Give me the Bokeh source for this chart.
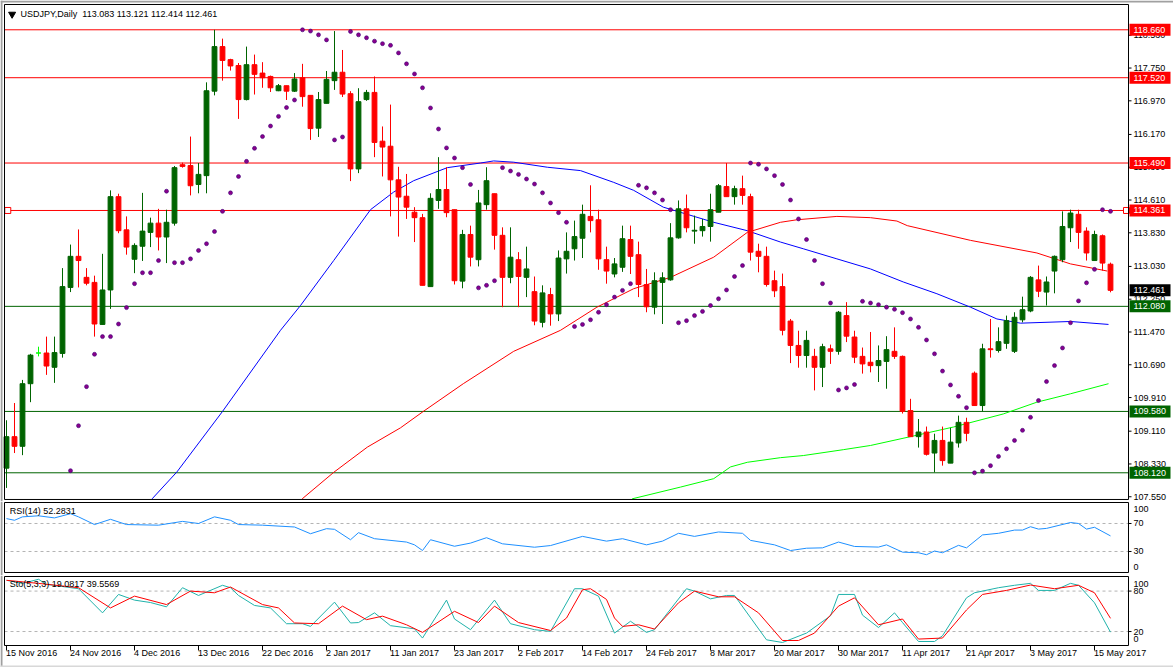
from bokeh.plotting import figure
from bokeh.layouts import column
from bokeh.models import Range1d, ColumnDataSource
from bokeh.core.properties import value
from bokeh.embed import file_html
from bokeh.resources import INLINE

# ---------------- data ----------------
opens = [108.23, 108.98, 108.75, 110.24, 110.97, 110.97, 110.63, 110.96, 112.53, 113.27,
         112.77, 112.65, 111.65, 112.47, 114.69, 113.90, 113.20, 113.51, 113.84, 114.06,
         113.73, 114.06, 115.45, 115.43, 114.98, 115.19, 117.20, 118.26, 117.95, 117.81,
         117.00, 117.83, 117.63, 117.55, 117.21, 117.33, 117.20, 117.52, 117.10, 116.32,
         116.91, 117.45, 117.65, 117.14, 115.35, 117.00, 117.17, 116.01, 115.89, 115.09,
         114.70, 114.32, 114.19, 112.55, 114.60, 114.86, 114.38, 112.68, 113.79, 113.19,
         114.50, 114.76, 113.77, 112.77, 113.19, 112.77, 112.43, 111.70, 112.36, 111.90,
         113.21, 113.45, 113.70, 114.22, 114.14, 113.19, 112.85, 113.01, 113.67, 113.31,
         112.60, 112.06, 112.65, 112.71, 113.71, 114.40, 113.87, 113.88, 113.98, 114.32,
         114.93, 114.69, 114.88, 114.69, 113.39, 113.27, 112.69, 112.55, 111.73, 111.15,
         110.91, 110.89, 110.63, 111.07, 111.01, 111.86, 111.35, 110.89, 110.75, 110.67,
         110.77, 111.01, 110.89, 109.60, 108.98, 109.09, 108.59, 108.89, 108.35, 108.83,
         109.32, 110.49, 109.72, 111.07, 111.03, 111.20, 111.01, 111.76, 111.97, 112.71,
         112.42, 112.92, 113.19, 113.95, 114.27, 113.87, 113.17, 113.76, 113.083]
highs = [109.37, 109.78, 110.33, 110.95, 111.12, 111.36, 111.36, 112.99, 113.55, 113.91,
         112.99, 112.81, 113.33, 114.84, 114.76, 114.22, 113.58, 114.78, 114.19, 114.40,
         114.38, 115.42, 115.50, 116.12, 115.49, 117.41, 118.66, 118.45, 117.97, 117.87,
         118.26, 118.07, 117.89, 117.57, 117.37, 117.33, 117.63, 117.85, 117.10, 117.18,
         117.68, 118.63, 118.18, 117.20, 117.27, 117.23, 117.55, 116.36, 116.88, 115.40,
         115.23, 114.44, 114.28, 114.77, 115.63, 115.39, 114.38, 113.90, 114.00, 114.85,
         115.39, 114.76, 113.96, 113.96, 113.37, 113.50, 112.79, 112.58, 112.52, 113.41,
         113.84, 114.12, 114.50, 114.96, 114.38, 113.50, 113.23, 114.00, 114.00, 113.62,
         112.97, 112.89, 112.89, 114.06, 114.60, 114.74, 114.24, 114.16, 114.76, 114.99,
         115.49, 114.95, 115.19, 114.76, 113.57, 113.50, 112.93, 112.86, 111.78, 111.50,
         111.50, 111.07, 111.19, 111.17, 111.97, 112.18, 111.50, 111.10, 111.47, 111.15,
         111.37, 111.58, 110.91, 109.88, 109.40, 109.22, 109.05, 109.22, 109.19, 109.48,
         109.43, 110.53, 111.19, 111.78, 111.58, 111.86, 111.94, 112.31, 112.80, 113.05,
         112.79, 113.29, 114.34, 114.38, 114.38, 113.96, 113.88, 113.79, 113.121]
lows = [107.76, 108.59, 108.54, 109.80, 110.89, 110.45, 110.26, 110.86, 112.42, 112.53,
        112.58, 111.36, 111.65, 112.02, 113.82, 113.31, 112.87, 113.16, 113.49, 113.41,
        113.11, 114.00, 115.38, 114.72, 114.77, 114.77, 117.10, 117.45, 117.69, 116.54,
        116.98, 117.12, 117.28, 117.18, 117.20, 116.99, 117.18, 116.83, 116.04, 116.11,
        116.91, 117.23, 117.06, 115.06, 115.25, 116.97, 115.63, 115.17, 114.22, 113.74,
        114.16, 113.61, 112.58, 112.55, 114.40, 114.20, 112.60, 112.51, 113.03, 113.03,
        114.38, 113.43, 112.06, 112.63, 112.06, 112.30, 111.63, 111.58, 111.62, 111.73,
        112.86, 113.17, 113.23, 113.84, 112.95, 112.62, 112.77, 112.90, 112.85, 112.30,
        111.94, 111.89, 111.66, 112.69, 113.69, 113.84, 113.57, 113.74, 113.62, 114.32,
        114.69, 114.50, 114.50, 113.17, 112.89, 112.55, 112.30, 111.39, 110.73, 110.62,
        110.62, 110.08, 110.16, 110.71, 110.93, 111.23, 110.73, 110.48, 110.51, 110.28,
        110.12, 110.83, 109.53, 108.98, 108.72, 108.53, 108.13, 108.29, 108.35, 108.72,
        108.87, 109.72, 109.58, 110.86, 110.98, 111.07, 110.97, 111.70, 111.94, 112.30,
        112.10, 112.39, 113.13, 113.61, 113.45, 113.17, 113.17, 112.93, 112.414]
closes = [108.98, 108.75, 110.24, 110.92, 110.97, 110.66, 110.98, 112.55, 113.27, 113.17,
          112.63, 111.66, 112.47, 114.69, 113.88, 113.49, 113.53, 113.87, 114.06, 113.73,
          114.08, 115.38, 115.41, 114.95, 115.22, 117.21, 118.26, 117.93, 117.80, 117.00,
          117.83, 117.60, 117.52, 117.28, 117.33, 117.20, 117.49, 117.07, 116.31, 117.00,
          117.48, 117.65, 117.13, 115.35, 116.95, 117.17, 115.98, 115.87, 115.09, 114.68,
          114.44, 114.19, 112.58, 114.65, 114.86, 114.31, 112.69, 113.79, 113.25, 114.54,
          115.07, 113.77, 112.77, 113.25, 112.79, 112.97, 111.73, 112.40, 111.90, 113.23,
          113.39, 113.74, 114.27, 114.12, 113.21, 112.92, 113.09, 113.69, 113.27, 112.60,
          112.07, 112.69, 112.76, 113.71, 114.40, 113.95, 113.89, 113.98, 114.38, 114.95,
          114.69, 114.88, 114.72, 113.37, 113.27, 112.60, 112.45, 111.51, 111.15, 110.91,
          111.27, 110.63, 111.12, 111.01, 111.94, 111.37, 110.87, 110.71, 110.67, 110.79,
          111.05, 110.89, 109.58, 108.98, 109.09, 108.56, 108.89, 108.41, 108.85, 109.32,
          109.06, 109.72, 111.07, 111.05, 111.24, 111.74, 111.82, 112.00, 112.77, 112.44,
          112.66, 113.27, 113.98, 114.30, 113.84, 113.35, 113.79, 113.11, 112.461]

sar_start = 8
sar = [108.17, 109.24, 110.17, 110.94, 111.36, 111.36, 111.66, 112.05, 112.62, 112.88,
       112.88, 113.17, 114.82, 113.12, 113.12, 113.21, 113.41, 113.57, 113.86, 114.34,
       114.78, 115.17, 115.53, 115.84, 116.12, 116.37, 116.60, 116.81, 116.99, 118.66,
       118.63, 118.54, 118.42, 116.04, 116.11, 118.62, 118.54, 118.47, 118.39, 118.33,
       118.29, 118.11, 117.85, 117.61, 117.28, 116.80, 116.30, 115.85, 115.61, 115.38,
       114.98, 112.52, 112.58, 112.69, 115.38, 115.30, 115.22, 115.11, 114.99, 114.78,
       114.54, 114.31, 114.08, 111.60, 111.65, 111.76, 111.94, 112.12, 112.30, 112.46,
       112.62, 114.96, 114.90, 114.78, 114.61, 114.38, 111.69, 111.74, 111.86, 111.96,
       112.10, 112.26, 112.47, 112.79, 113.05, 115.49, 115.46, 115.35, 115.19, 114.98,
       114.61, 114.16, 113.67, 113.17, 112.62, 112.16, 110.09, 110.14, 110.22, 112.20,
       112.16, 112.12, 112.06, 112.01, 111.93, 111.78, 111.58, 111.28, 110.95, 110.54,
       110.21, 109.94, 109.67, 108.12, 108.16, 108.29, 108.51, 108.69, 108.89, 109.13,
       109.44, 109.84, 110.29, 110.67, 111.09, 111.69, 112.21, 112.64, 112.96, 114.38, 114.34]

ma_blue_k = [18.2, 21.3, 27, 34.25, 36.75, 40.9, 45.5, 48.4, 50.9, 55.1, 59.25, 60.9, 63.4,
             67.6, 71.75, 75.9, 78.4, 82.1, 88.4, 92.6, 96.75, 99.6, 103.8, 108, 112.1, 116.3,
             120.5, 123.8, 126.75, 133, 137.75]
ma_blue = [107.50, 108.14, 109.58, 111.51, 112.10, 113.17, 114.38, 114.80, 115.07, 115.38,
           115.49, 115.54, 115.51, 115.39, 115.31, 115.03, 114.84, 114.44, 114.08, 113.88,
           113.61, 113.45, 113.21, 112.97, 112.66, 112.38, 112.06, 111.78, 111.68, 111.72, 111.65]
ma_red_k = [36.96, 40.9, 45.1, 49.25, 52.1, 57.1, 63.4, 69.25, 73.8, 78.4, 83, 88.4, 92.6,
            96.75, 98.8, 103.8, 108, 111.3, 112.6, 120.5, 128.8, 133, 137.6]
ma_red = [107.50, 108.13, 108.73, 109.19, 109.58, 110.24, 111.01, 111.51, 112.06, 112.50,
          112.77, 113.25, 113.84, 114.08, 114.14, 114.22, 114.19, 114.11, 114.00, 113.65,
          113.35, 113.09, 112.92]
ma_green_k = [78.2, 84.25, 88.4, 90.5, 92.6, 96.75, 99.6, 104.6, 108, 113, 118.4, 124.6,
              128.8, 133, 137.75]
ma_green = [107.50, 107.78, 107.98, 108.26, 108.37, 108.48, 108.53, 108.67, 108.77, 108.98,
            109.21, 109.52, 109.80, 110.00, 110.24]

red_levels = [118.66, 117.52, 115.49, 114.361]
green_levels = [112.08, 109.58, 108.12]
last_price = 112.461
price_ticks = [107.55, 108.33, 109.11, 109.91, 110.69, 111.47, 112.25, 113.03, 113.83,
               114.61, 115.39, 116.17, 116.97, 117.75, 118.53]

rsi_k = [0, 1, 2, 4, 6, 8, 9, 11, 13, 15, 19, 22, 24, 26, 28, 29, 32, 36, 38, 40, 41, 43, 44,
         46, 50, 51, 52, 53, 56, 58, 60, 62, 66, 68, 72, 75, 77, 80, 82, 84, 86, 89, 92, 93,
         96, 98, 100, 102, 104, 106, 109, 110, 112, 114, 115, 116, 117, 119, 120, 122, 124,
         126, 127, 128, 129, 130, 133, 134, 135, 136, 138]
rsi = [77, 74.6, 79.5, 81, 78, 84, 79.5, 68.5, 76, 68.5, 67.6, 73, 70, 79.5, 74.6, 68.5, 67.6,
       65, 55.4, 62.6, 61.7, 46.8, 56.9, 48.3, 43.5, 39.5, 31.4, 46.8, 37.5, 42, 49.7, 41,
       36.1, 38.5, 51.6, 44.8, 48.3, 39.5, 44.8, 56, 51.6, 57.9, 56, 45.9, 39.5, 31.4, 34.7,
       35.2, 43.5, 37.2, 36.3, 39.5, 29.1, 28.2, 25.4, 30.7, 28.2, 38.8, 35.2, 53.7, 56,
       60.6, 60.6, 65.4, 62, 63, 71.4, 70, 62, 64.6, 52.28]
rsi_levels = [30, 70]

sto_k = [0, 2, 4, 5, 9, 12, 14, 16, 18, 20, 22, 24, 27, 28, 29, 31, 33, 35, 37, 38, 41, 43,
         44, 46, 48, 51, 52, 55, 56, 58, 61, 63, 66, 68, 71, 72, 74, 76, 78, 80, 81, 85, 86,
         88, 90, 91, 95, 97, 100, 103, 104, 106, 107, 109, 111, 112, 114, 116, 117, 120, 121,
         124, 126, 128, 129, 131, 133, 134, 136, 138]
sto_main = [96, 91.4, 97.5, 90, 83.5, 47.7, 75, 66.6, 63, 56.6, 85, 73.5, 88.6, 85, 73.5,
            58.7, 55, 31.6, 31.6, 27.6, 63.6, 32.7, 33.3, 47.7, 28.7, 24, 10.3, 66.6, 38.6,
            22.7, 66.6, 31.6, 22.7, 20.2, 83.5, 83.5, 72.5, 17.7, 35.2, 18.7, 22.7, 83.5, 80,
            68.5, 73.5, 73.5, 7.7, 3.7, 17.7, 43.3, 75, 75, 44.3, 25.9, 47.7, 33.3, 5.2, 5.2,
            13.7, 70, 77.5, 85, 88.6, 91.5, 81, 81, 91.5, 88.6, 62.6, 19.08]
sig_k = [0, 4, 9, 13, 16, 20, 23, 26, 28, 32, 34, 36, 39, 42, 45, 47, 50, 52, 56, 59, 61, 64,
         68, 70, 72, 73, 75, 76, 77, 79, 81, 84, 86, 89, 91, 94, 97, 99, 101, 104, 106, 109,
         112, 114, 117, 120, 122, 125, 128, 131, 134, 136, 138]
sto_signal = [96, 91.4, 85, 55, 72.5, 60, 80, 77.5, 86, 60, 55, 32.7, 31.6, 57.7, 37.6, 42.8,
              30, 18.7, 50, 33.3, 57.7, 33.3, 21.5, 40, 82, 83.5, 67.6, 40, 27.6, 30, 23.7,
              62.6, 80, 71.5, 71.5, 47.7, 6.7, 6.7, 17.7, 57.7, 70, 30, 38.6, 8.8, 10.3, 52,
              75, 81, 89, 83.5, 88.6, 77.5, 39.56]
sto_levels = [20, 80]

date_k = [0, 8, 16, 24, 32, 40, 48, 56, 64, 72, 80, 88, 96, 104, 112, 120, 128, 136]
date_labels = ["15 Nov 2016", "24 Nov 2016", "4 Dec 2016", "13 Dec 2016", "22 Dec 2016",
               "2 Jan 2017", "11 Jan 2017", "23 Jan 2017", "2 Feb 2017", "14 Feb 2017",
               "24 Feb 2017", "8 Mar 2017", "20 Mar 2017", "30 Mar 2017", "11 Apr 2017",
               "21 Apr 2017", "3 May 2017", "15 May 2017"]

# ---------------- styling / geometry ----------------
FONT = value("Liberation Sans")
FS = value("9px")
BULL = "#006400"
BEAR = "#ff0000"
DOJI = "#00ff00"
LVL_GREEN = "#006400"
X_RANGE = (-0.75, 145.875)       # whole canvas width in bar units (8 px per bar)
BOX_L, BOX_R = -0.25, 140.25     # panel box edges in bar units
TICK_END = 140.625               # 3 px tick marks to the right of the box
TXT_X = 140.875                  # right-side text start
PX = 1 / 8.0                     # one pixel in bar units


def panel(height, y0, y1):
    p = figure(width=1173, height=height, x_range=Range1d(*X_RANGE), y_range=Range1d(y0, y1),
               output_backend="svg", toolbar_location=None, x_axis_type=None,
               y_axis_type=None, min_border=0)
    p.min_border_left = p.min_border_right = p.min_border_top = p.min_border_bottom = 0
    p.outline_line_color = None
    p.background_fill_color = "white"
    p.border_fill_color = "white"
    # grey window frame on the left edge
    p.segment(x0=[X_RANGE[0] + PX], y0=[y0], x1=[X_RANGE[0] + PX], y1=[y1],
              line_color="#a0a0a0", line_width=2)
    return p


def box(p, top, bottom):
    p.quad(left=[BOX_L], right=[BOX_R], top=[top], bottom=[bottom], fill_color=None,
           line_color="black", line_width=1)


def right_labels(p, ticks, texts, mark=True, color="black"):
    if mark:
        p.segment(x0=[BOX_R] * len(ticks), x1=[TICK_END] * len(ticks), y0=ticks, y1=ticks,
                  line_color="black", line_width=1)
    p.text(x=[TXT_X] * len(ticks), y=ticks, text=texts, text_font=FONT, text_font_size=FS,
           text_color=color, text_align="left", text_baseline="middle")


def hlevels(p, levels, color, dash="solid"):
    p.segment(x0=[BOX_L] * len(levels), x1=[BOX_R] * len(levels), y0=levels, y1=levels,
              line_color=color, line_width=1, line_dash=dash)


# ---------------- main price panel ----------------
P_TOP, P_BOT = 119.357, 107.437          # canvas edges (0 px and 501 px)
PPX = 1 / 42.03                          # one pixel in price units
p1 = panel(501, P_BOT, P_TOP)
p1.segment(x0=[X_RANGE[0]], x1=[X_RANGE[1]], y0=[P_TOP - PPX], y1=[P_TOP - PPX],
           line_color="#a0a0a0", line_width=2)

idx = list(range(len(opens)))
cols = [DOJI if c == o else (BULL if c > o else BEAR) for o, c in zip(opens, closes)]
src = ColumnDataSource(dict(x=idx, h=highs, l=lows,
                            top=[max(o, c) for o, c in zip(opens, closes)],
                            bot=[min(o, c) for o, c in zip(opens, closes)], col=cols))

hlevels(p1, red_levels, BEAR)
hlevels(p1, green_levels, LVL_GREEN)

p1.line(ma_green_k, ma_green, color="#00ff00", line_width=1)
p1.line(ma_red_k, ma_red, color="#ff0000", line_width=1)
p1.line(ma_blue_k, ma_blue, color="#0000ff", line_width=1)

p1.segment(x0="x", y0="l", x1="x", y1="h", color="col", line_width=1, source=src)
p1.vbar(x="x", width=0.6, top="top", bottom="bot", fill_color="col", line_color="col",
        line_width=1, source=src)

sar_x = list(range(sar_start, sar_start + len(sar)))
p1.scatter(sar_x, sar, size=4, fill_color="#8a008a", line_color="#3c0078", line_width=0.6)

# handles of the selected 114.361 line
p1.scatter([0.16, 140.0], [red_levels[3]] * 2, marker="square", size=6,
           fill_color="white", line_color=BEAR)

box(p1, 119.262, 107.485)

# title
p1.scatter([0.7], [119.03], marker="inverted_triangle", size=7, color="black")
p1.text(x=[1.75], y=[119.03], text=["USDJPY,Daily\u00a0\u00a0%.3f %.3f %.3f %.3f" % (
    opens[-1], highs[-1], lows[-1], closes[-1])], text_font=FONT, text_font_size=FS,
    text_color="black", text_baseline="middle", text_align="left")

# right price scale
right_labels(p1, price_ticks, ["%.3f" % t for t in price_ticks])

# coloured price boxes on the scale
box_levels = red_levels + [last_price] + green_levels
box_cols = [BEAR] * len(red_levels) + ["black"] + [LVL_GREEN] * len(green_levels)
p1.quad(left=[BOX_R + PX] * len(box_levels), right=[BOX_R + 42 * PX] * len(box_levels),
        top=[v + 6 * PPX for v in box_levels], bottom=[v - 6 * PPX for v in box_levels],
        fill_color=box_cols, line_color=None)
right_labels(p1, box_levels, ["%.3f" % v for v in box_levels], mark=False, color="white")

# ---------------- RSI panel ----------------
p2 = panel(74, -4.29, 101.43)
hlevels(p2, rsi_levels, "#b4b4b4", "3 3")
p2.line(rsi_k, rsi, color="#1e90ff", line_width=1)
box(p2, 100, 0)
p2.text(x=[0.4], y=[87.5], text=["RSI(14) %.4f" % 52.2831], text_font=FONT,
        text_font_size=FS, text_color="black", text_baseline="middle", text_align="left")
right_labels(p2, rsi_levels, [str(v) for v in rsi_levels])
right_labels(p2, [90.9, 7.9], ["100", "0"], mark=False)

# ---------------- Stochastic panel ----------------
p3 = panel(92, -33.38, 103.12)
hlevels(p3, sto_levels, "#b4b4b4", "3 3")
p3.line(sto_k, sto_main, color="#20b2aa", line_width=1)
p3.line(sig_k, sto_signal, color="#ff0000", line_width=1)
box(p3, 101.63, -0.74)
p3.text(x=[0.4], y=[89.9], text=["Sto(5,3,3) %.4f %.4f" % (19.0817, 39.5569)],
        text_font=FONT, text_font_size=FS, text_color="black", text_baseline="middle",
        text_align="left")
right_labels(p3, sto_levels, [str(v) for v in sto_levels])
right_labels(p3, [91.2, 8.75], ["100", "0"], mark=False)

# date scale under the stochastic panel
p3.segment(x0=date_k, x1=date_k, y0=[-0.74] * len(date_k), y1=[-8.16] * len(date_k),
           line_color="black", line_width=1)
p3.text(x=[k - 0.05 for k in date_k], y=[-12.6] * len(date_k), text=date_labels,
        text_font=FONT, text_font_size=FS, text_color="black", text_align="left",
        text_baseline="middle")
p3.segment(x0=[X_RANGE[0]], x1=[X_RANGE[1]], y0=[-32.6], y1=[-32.6],
           line_color="#d8d8d8", line_width=3)

layout = column(p1, p2, p3, spacing=0)
open("out.html", "w").write(file_html(layout, INLINE))
